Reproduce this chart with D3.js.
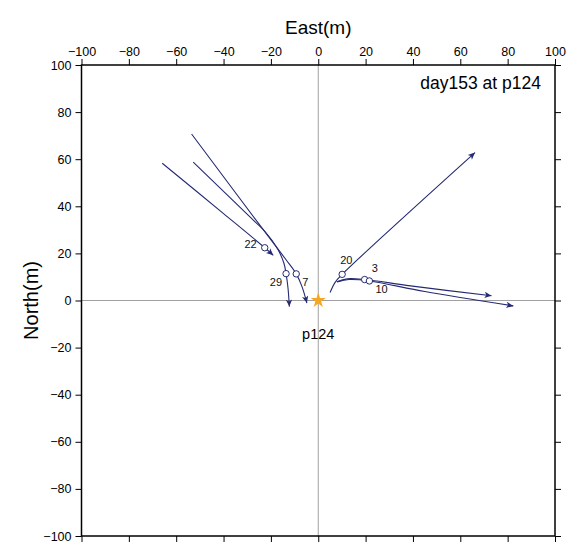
<!DOCTYPE html>
<html><head><meta charset="utf-8">
<script src="https://cdn.jsdelivr.net/npm/d3@7"></script>
<style>
html,body{margin:0;padding:0;background:#fff;}
svg text{font-family:"Liberation Sans",Arial,Helvetica,sans-serif;}
</style></head>
<body>
<svg id="chart" width="569" height="543"></svg>
<script>
// ---- data ----
const xDomain = [-100, 100];
const yDomain = [-100, 100];
const tickValues = [-100, -80, -60, -40, -20, 0, 20, 40, 60, 80, 100];
const trackDays = ["22", "29", "7", "20", "3", "10"];
// each track: ordered positions (East, North) in metres, arrow at the last point
const track22 = [[-65.9, 58.3], [-40.0, 36.9], [-22.6, 22.4], [-19.0, 19.2]];
const track29 = [[-52.8, 58.8], [-27.0, 33.7], [-22.5, 29.3], [-17.2, 22.0], [-14.5, 15.8], [-13.6, 11.4], [-12.8, 5.5], [-12.2, -2.6]];
const track7  = [[-53.5, 70.7], [-25.0, 32.4], [-13.6, 17.3], [-9.3, 11.3], [-6.9, 6.0], [-4.8, -1.1]];
const track20 = [[5.0, 3.4], [7.2, 7.8], [10.1, 11.1], [66.2, 62.8]];
const track3  = [[7.8, 8.0], [12.2, 9.2], [19.6, 8.9], [39.0, 6.2], [73.2, 2.0]];
const track10 = [[8.0, 7.9], [13.0, 8.9], [21.6, 8.3], [45.0, 3.8], [82.4, -2.3]];
const tracks = [track22, track29, track7, track20, track3, track10];
// marked positions (circle) per track
const markers = [[-22.6, 22.4], [-13.6, 11.4], [-9.3, 11.3], [10.1, 11.1], [19.6, 8.9], [21.6, 8.3]];
const station = {name: "p124", x: 0, y: 0};
const title = "day153 at p124";

// ---- layout ----
const svg = d3.select("#chart");
const x = d3.scaleLinear().domain(xDomain).range([81.5, 555]);
const y = d3.scaleLinear().domain(yDomain).range([536, 65]);
const navy = "#252a72";

const defs = svg.append("defs");
defs.append("marker").attr("id", "arrow")
  .attr("viewBox", "0 0 10 10").attr("refX", 10).attr("refY", 5)
  .attr("markerUnits", "userSpaceOnUse")
  .attr("markerWidth", 10).attr("markerHeight", 7).attr("orient", "auto")
  .append("path").attr("d", "M0,0.5 L10,5 L0,9.5 L2.5,5 Z").attr("fill", navy);

// zero lines
svg.append("line").attr("x1", x(0)).attr("x2", x(0)).attr("y1", y(100)).attr("y2", y(-100))
  .attr("stroke", "#a0a0a0").attr("stroke-width", 1);
svg.append("line").attr("x1", x(-100)).attr("x2", x(100)).attr("y1", y(0)).attr("y2", y(0))
  .attr("stroke", "#a0a0a0").attr("stroke-width", 1);

// axes
const fmt = d3.format("d");
const axTop = svg.append("g").attr("transform", `translate(0,${y(100)})`)
  .call(d3.axisTop(x).tickValues(tickValues).tickSize(6).tickPadding(3).tickFormat(fmt));
const axLeft = svg.append("g").attr("transform", `translate(${x(-100)},0)`)
  .call(d3.axisLeft(y).tickValues(tickValues).tickSize(6).tickPadding(4).tickFormat(fmt));
const axRight = svg.append("g").attr("transform", `translate(${x(100)},0)`)
  .call(d3.axisRight(y).tickValues(tickValues).tickSize(6).tickFormat(""));
const axBottom = svg.append("g").attr("transform", `translate(0,${y(-100)})`)
  .call(d3.axisBottom(x).tickValues(tickValues).tickSize(6).tickFormat(""));
[axTop, axLeft, axRight, axBottom].forEach(g => {
  g.select(".domain").remove();
  g.selectAll(".tick line").attr("stroke", "#000").attr("stroke-width", 1);
  g.selectAll(".tick text").attr("font-size", 12.5).attr("fill", "#000")
    .attr("font-family", "Liberation Sans, Arial, sans-serif");
});
svg.append("rect").attr("x", x(-100)).attr("y", y(100))
  .attr("width", x(100) - x(-100)).attr("height", y(-100) - y(100))
  .attr("fill", "none").attr("stroke", "#000").attr("stroke-width", 1.5);

// axis titles
svg.append("text").attr("x", x(0)).attr("y", 34).attr("text-anchor", "middle")
  .attr("font-size", 19).text("East(m)");
svg.append("text").attr("transform", `translate(38,${y(0)}) rotate(-90)`)
  .attr("text-anchor", "middle").attr("font-size", 20).text("North(m)");

// title
svg.append("text").attr("x", 541).attr("y", 89).attr("text-anchor", "end")
  .attr("font-size", 17.5).text(title);

// tracks
const line = d3.line().x(d => x(d[0])).y(d => y(d[1])).curve(d3.curveCatmullRom.alpha(0.5));
svg.append("g").selectAll("path").data(tracks).join("path")
  .attr("d", line).attr("fill", "none").attr("stroke", navy).attr("stroke-width", 1.1)
  .attr("marker-end", "url(#arrow)");

// markers
svg.append("g").selectAll("circle").data(markers).join("circle")
  .attr("cx", d => x(d[0])).attr("cy", d => y(d[1])).attr("r", 3.2)
  .attr("fill", "#fff").attr("stroke", navy).attr("stroke-width", 1);

// day labels (offsets in px relative to the marker)
const labelOffsets = [[-8, 0, "end"], [-4, 12, "end"], [6, 12, "start"], [-2, -10, "start"], [7, -8, "start"], [6, 12, "start"]];
svg.append("g").selectAll("text").data(markers).join("text")
  .attr("x", (d, i) => x(d[0]) + labelOffsets[i][0])
  .attr("y", (d, i) => y(d[1]) + labelOffsets[i][1])
  .attr("text-anchor", (d, i) => labelOffsets[i][2])
  .attr("font-size", 11).attr("fill", "#111")
  .text((d, i) => trackDays[i]);

// station
const star = d3.symbol().type(d3.symbolStar).size(70);
svg.append("path").attr("d", star())
  .attr("transform", `translate(${x(station.x)},${y(station.y)})`)
  .attr("fill", "#f5a623");
svg.append("text").attr("x", x(station.x)).attr("y", y(station.y) + 38)
  .attr("text-anchor", "middle").attr("font-size", 14.5).text(station.name);
</script>
</body></html>
